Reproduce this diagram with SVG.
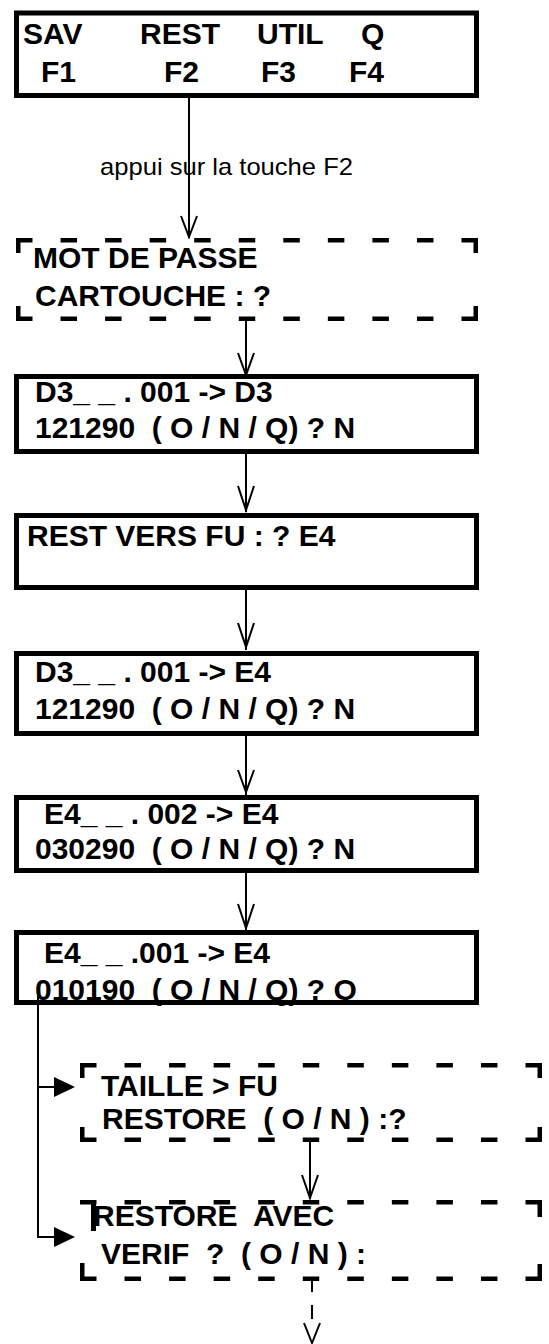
<svg xmlns="http://www.w3.org/2000/svg" width="549" height="1344" viewBox="0 0 549 1344">
<style>
  .box{fill:none;stroke:#000;stroke-width:5}
  .dh{fill:none;stroke:#000;stroke-width:4.5;stroke-dasharray:16.5 28.05}
  .dv{fill:none;stroke:#000;stroke-width:4.5;stroke-dasharray:15 53}
  .t{font-family:"Liberation Sans",Arial,sans-serif;font-weight:bold;font-size:30px;fill:#000;white-space:pre}
  .lbl{font-family:"Liberation Sans",Arial,sans-serif;font-size:24px;fill:#000}
  .ln{fill:none;stroke:#000;stroke-width:2}
  .ah{fill:none;stroke:#000;stroke-width:2}
  .fa{fill:#000;stroke:none}
</style>
<rect width="549" height="1344" fill="#fff"/>

<g id="menu">
  <rect class="box" x="16.5" y="13" width="460" height="82.5"/>
  <text class="t" y="44"><tspan x="23">SAV</tspan><tspan x="140">REST</tspan><tspan x="257">UTIL</tspan><tspan x="361">Q</tspan></text>
  <text class="t" y="82"><tspan x="41">F1</tspan><tspan x="164">F2</tspan><tspan x="261">F3</tspan><tspan x="349">F4</tspan></text>
</g>

<g id="motdepasse">
  <line class="dh" x1="16" y1="240.25" x2="478" y2="240.25"/>
  <line class="dh" x1="16" y1="318.75" x2="478" y2="318.75"/>
  <line class="dv" x1="18.25" y1="238" x2="18.25" y2="321"/>
  <line class="dv" x1="475.75" y1="238" x2="475.75" y2="321"/>
  <text class="t" x="33" y="268">MOT DE PASSE</text>
  <text class="t" x="35" y="306">CARTOUCHE : ?</text>
</g>

<g id="d3d3">
  <rect class="box" x="16.5" y="376.5" width="460" height="75"/>
  <text class="t" x="35" y="402" xml:space="preserve">D3_ _ . 001 -&gt; D3</text>
  <text class="t" x="35" y="438" xml:space="preserve">121290  ( O / N / Q) ? N</text>
</g>

<g id="restvers">
  <rect class="box" x="16.5" y="515.5" width="460" height="72"/>
  <text class="t" x="27" y="546">REST VERS FU : ? E4</text>
</g>

<g id="d3e4">
  <rect class="box" x="16.5" y="653.5" width="460" height="80"/>
  <text class="t" x="35" y="682" xml:space="preserve">D3_ _ . 001 -&gt; E4</text>
  <text class="t" x="35" y="719" xml:space="preserve">121290  ( O / N / Q) ? N</text>
</g>

<g id="e4002">
  <rect class="box" x="16.5" y="797.5" width="460" height="73"/>
  <text class="t" x="44" y="824" xml:space="preserve">E4_ _ . 002 -&gt; E4</text>
  <text class="t" x="35" y="859" xml:space="preserve">030290  ( O / N / Q) ? N</text>
</g>

<g id="e4001">
  <rect class="box" x="16.5" y="932.5" width="460" height="70"/>
  <text class="t" x="44" y="963" xml:space="preserve">E4_ _ .001 -&gt; E4</text>
  <text class="t" x="35" y="1000" xml:space="preserve">010190  ( O / N / Q) ? O</text>
</g>

<g id="taille">
  <line class="dh" x1="80" y1="1065.25" x2="542" y2="1065.25"/>
  <line class="dh" x1="80" y1="1139.75" x2="542" y2="1139.75"/>
  <line class="dv" x1="82.25" y1="1063" x2="82.25" y2="1142" style="stroke-dasharray:15 49"/>
  <line class="dv" x1="539.75" y1="1063" x2="539.75" y2="1142" style="stroke-dasharray:15 49"/>
  <text class="t" x="101" y="1096">TAILLE &gt; FU</text>
  <text class="t" x="102" y="1129" xml:space="preserve">RESTORE  ( O / N ) :?</text>
</g>

<g id="verif">
  <line class="dh" x1="80" y1="1202.25" x2="542" y2="1202.25"/>
  <line class="dh" x1="80" y1="1278.75" x2="542" y2="1278.75"/>
  <line class="ln" x1="93.5" y1="1200" x2="93.5" y2="1231" style="stroke-width:5"/>
  <line class="ln" x1="82.25" y1="1263" x2="82.25" y2="1281" style="stroke-width:4.5"/>
  <line class="dv" x1="539.75" y1="1200" x2="539.75" y2="1281" style="stroke-dasharray:17 47"/>
  <text class="t" x="93" y="1226" xml:space="preserve">RESTORE  AVEC</text>
  <text class="t" x="101" y="1264" xml:space="preserve">VERIF  ?  ( O / N ) :</text>
</g>

<g id="connectors">
  <line class="ln" x1="189" y1="98" x2="189" y2="238"/>
  <polyline class="ah" points="181,216 189,237 197,216"/>
  <text class="lbl" x="100" y="175" textLength="253" lengthAdjust="spacingAndGlyphs">appui sur la touche F2</text>

  <line class="ln" x1="246" y1="321" x2="246" y2="375"/>
  <polyline class="ah" points="238,353 246,375 254,353"/>

  <line class="ln" x1="246" y1="454" x2="246" y2="512"/>
  <polyline class="ah" points="238,486 246,510 254,486"/>

  <line class="ln" x1="246" y1="590" x2="246" y2="650"/>
  <polyline class="ah" points="238,623 246,647 254,623"/>

  <line class="ln" x1="246" y1="736" x2="246" y2="795"/>
  <polyline class="ah" points="238,770 246,792 254,770"/>

  <line class="ln" x1="246" y1="873" x2="246" y2="930"/>
  <polyline class="ah" points="238,904 246,928 254,904"/>

  <polyline class="ln" points="38,996 38,1237 55,1237"/>
  <line class="ln" x1="38" y1="1087" x2="55" y2="1087"/>
  <polygon class="fa" points="54,1077 75,1087 54,1097"/>
  <polygon class="fa" points="54,1227 75,1237 54,1247"/>

  <line class="ln" x1="310" y1="1142" x2="310" y2="1199"/>
  <polyline class="ah" points="302,1175 310,1198 318,1175"/>

  <line class="ln" x1="312" y1="1281" x2="312" y2="1292"/>
  <line class="ln" x1="312" y1="1305" x2="312" y2="1319"/>
  <polyline class="ah" points="304,1323 312,1343 320,1323"/>
</g>
</svg>
